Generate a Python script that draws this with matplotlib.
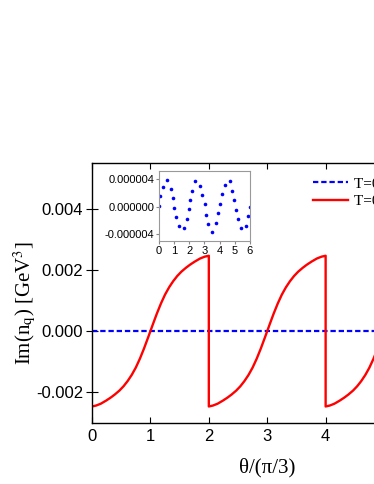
import numpy as np
import matplotlib
matplotlib.use("Agg")
import matplotlib.pyplot as plt

plt.rcParams['font.family'] = ['Liberation Sans', 'DejaVu Sans']
plt.rcParams['mathtext.fontset'] = 'stix'

# one period of the red curve (theta in units of pi/3)
theta_one = [0.00, 0.07, 0.15, 0.24, 0.32, 0.39, 0.47, 0.54, 0.61, 0.68,
             0.75, 0.82, 0.89, 0.96, 1.00, 1.04, 1.11, 1.18, 1.25, 1.32,
             1.39, 1.46, 1.53, 1.61, 1.68, 1.76, 1.85, 1.93, 2.00]
im_one = [-0.00246, -0.00243, -0.00237, -0.00227, -0.00217, -0.00207,
          -0.00194, -0.00180, -0.00163, -0.00143, -0.00119, -0.00090,
          -0.00057, -0.00021, 0.0, 0.00021, 0.00057, 0.00090, 0.00119,
          0.00143, 0.00163, 0.00180, 0.00194, 0.00207, 0.00217, 0.00227,
          0.00237, 0.00243, 0.00246]
period_start = [0, 2, 4]

# blue curve is flat at zero on the main scale
blue_theta = [0, 6]
blue_im = [0.0, 0.0]

# inset dots (blue curve zoomed)
inset_theta = [0.00, 0.09, 0.24, 0.50, 0.77, 0.90, 1.01, 1.14, 1.32, 1.63,
               1.82, 1.96, 2.04, 2.20, 2.37, 2.73, 2.86, 3.01, 3.12, 3.27,
               3.49, 3.78, 3.91, 4.02, 4.15, 4.33, 4.66, 4.84, 4.97, 5.10,
               5.23, 5.41, 5.74, 5.89, 6.00]
inset_im = [0.1, 1.5, 2.9, 3.9, 2.5, 1.2, -0.2, -1.6, -2.9, -3.2,
            -1.9, -0.4, 0.9, 2.3, 3.7, 3.0, 1.7, 0.3, -1.2, -2.5,
            -3.7, -2.4, -1.0, 0.4, 1.8, 3.2, 3.7, 2.3, 0.9, -0.5,
            -1.9, -3.2, -2.8, -1.4, -0.05]
inset_im = [v * 1e-6 for v in inset_im]

legend_labels = ["T=0.1 GeV", "T=0.2 GeV"]

xticks = [0, 1, 2, 3, 4, 5, 6]
yticks = [-0.002, 0.000, 0.002, 0.004]
inset_yticks = [-4e-6, 0, 4e-6]


fig = plt.figure(figsize=(3.74, 4.84), dpi=100)
# main axes run past the right edge, as in the cropped original
ax = fig.add_axes([0.246, 0.126, 0.937, 0.538])

red_theta = []
red_im = []
for s in period_start:
    red_theta += [t + s for t in theta_one]
    red_im += im_one

ax.plot(blue_theta, blue_im, color='#0000ff', lw=1.6, dashes=(2.4, 1.3),
        label=legend_labels[0])
ax.plot(red_theta, red_im, color='#ff0000', lw=1.7, label=legend_labels[1])

ax.set_xlim(0, 6)
ax.set_ylim(-0.003, 0.0055)
ax.set_xticks(xticks)
ax.set_yticks(yticks)
ax.set_yticklabels(["%.3f" % v for v in yticks])
ax.tick_params(axis='x', direction='in', length=4, labelsize=12, pad=4,
               top=True)
ax.tick_params(axis='y', direction='inout', length=9, labelsize=12, pad=2)
for sp in ax.spines.values():
    sp.set_linewidth(1.0)

ax.set_xlabel("θ/(π/3)", family='Liberation Serif', fontsize=15)
ax.xaxis.set_label_coords(0.4995, -0.133)
ax.set_ylabel(r"Im(n$_\mathrm{q}$) [GeV$^3$]", family='Liberation Serif',
              fontsize=15)
ax.yaxis.set_label_coords(-0.155, 0.46)

ax.legend(loc='upper left', bbox_to_anchor=(313 / 374, 1 - 177 / 484),
          bbox_transform=fig.transFigure, frameon=False, borderpad=0,
          borderaxespad=0, handlelength=2.3, handletextpad=0.4,
          labelspacing=0.25,
          prop={'family': 'Liberation Serif', 'size': 11})

# inset
axi = fig.add_axes([0.425, 0.5015, 0.243, 0.145])
axi.plot(inset_theta, inset_im, 'o', color='#0000ff', ms=2.6, mew=0)
axi.set_xlim(0, 6)
axi.set_ylim(-5.1e-6, 5.2e-6)
axi.set_xticks(xticks)
axi.set_yticks(inset_yticks)
axi.set_yticklabels(["-0.000004", "0.000000", "0.000004"])
axi.tick_params(labelsize=8, length=2, pad=1.5, color='#888888')
for sp in axi.spines.values():
    sp.set_color('#999999')
    sp.set_linewidth(0.8)

fig.savefig("out.png", dpi=100)
